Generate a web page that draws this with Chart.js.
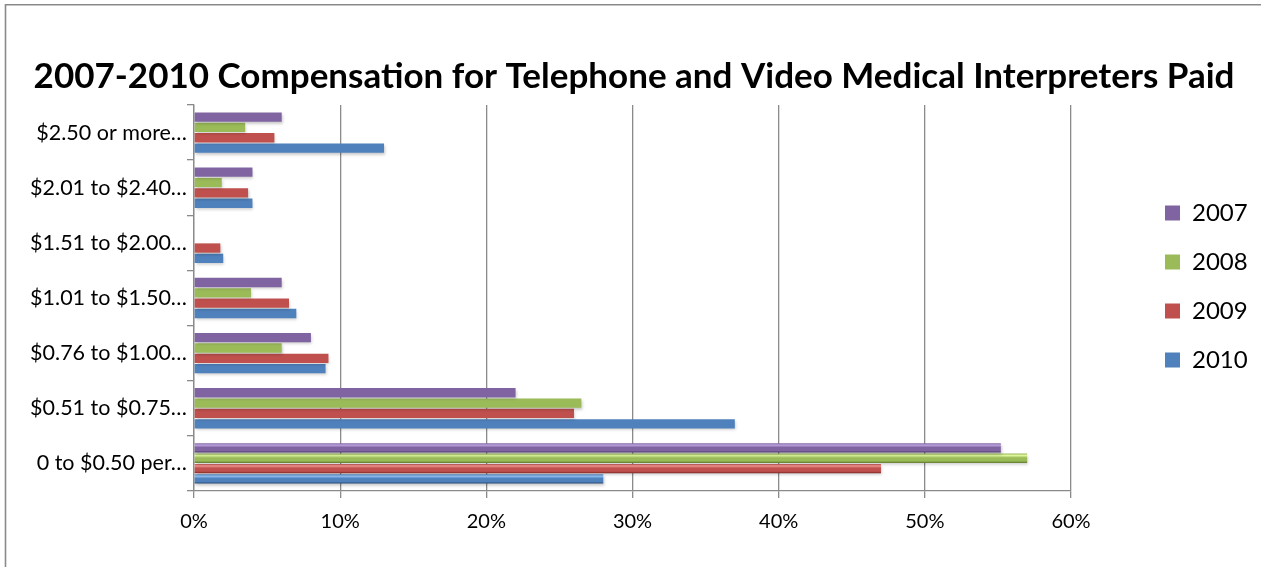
<!DOCTYPE html>
<html>
<head>
<meta charset="utf-8">
<script src="https://cdn.jsdelivr.net/npm/chart.js@4.4.1/dist/chart.umd.min.js"></script>
<style>
html,body{margin:0;padding:0;background:#fff;}
#wrap{width:1261px;height:567px;position:relative;}
</style>
</head>
<body>
<div id="wrap"><canvas id="c" width="1261" height="567"></canvas></div>
<script>
// Categories (top to bottom as drawn)
const categories = ["$2.50 or more…", "$2.01 to $2.40…", "$1.51 to $2.00…", "$1.01 to $1.50…", "$0.76 to $1.00…", "$0.51 to $0.75…", "0 to $0.50 per…"];
// Series values (percent)
const series2007 = [6.0, 4.0, 0, 6.0, 8.0, 22.0, 55.2];
const series2008 = [3.5, 1.9, 0, 3.9, 6.0, 26.5, 57.0];
const series2009 = [5.5, 3.7, 1.8, 6.5, 9.2, 26.0, 47.0];
const series2010 = [13.0, 4.0, 2.0, 7.0, 9.0, 37.0, 28.0];
const seriesNames = ["2007", "2008", "2009", "2010"];
// X tick values
const xTicks = [0, 10, 20, 30, 40, 50, 60];

const palette = [
  {base:'#8064A2', light:'#BBA2DE', dark:'#4F3A6C'},
  {base:'#9BBB59', light:'#DFF79C', dark:'#617A2E'},
  {base:'#C0504D', light:'#F59794', dark:'#7E2623'},
  {base:'#4F81BD', light:'#95C2F4', dark:'#24497A'}
];
const allSeries = [series2007, series2008, series2009, series2010];

const LEGEND_PAD = 25;

const bevelPlugin = {
  id: 'bevel',
  beforeDatasetsDraw(chart) {
    const ctx = chart.ctx;
    chart.data.datasets.forEach((ds, di) => {
      const meta = chart.getDatasetMeta(di);
      const p = palette[di];
      meta.data.forEach(el => {
        const {y, height} = el.getProps(['y', 'height'], true);
        const h = Math.abs(height);
        const g = ctx.createLinearGradient(0, y - h/2, 0, y + h/2);
        g.addColorStop(0, p.base);
        g.addColorStop(0.2, p.light);
        g.addColorStop(0.45, p.base);
        g.addColorStop(0.78, p.base);
        g.addColorStop(1, p.dark);
        el.options.backgroundColor = g;
      });
    });
    ctx.save();
    ctx.shadowColor = 'rgba(0,0,0,0.22)';
    ctx.shadowBlur = 3;
    ctx.shadowOffsetX = 1;
    ctx.shadowOffsetY = 2;
  },
  afterDatasetsDraw(chart) {
    chart.ctx.restore();
  }
};

const framePlugin = {
  id: 'frame',
  beforeDraw(chart) {
    const ctx = chart.ctx;
    ctx.save();
    ctx.fillStyle = '#fff';
    ctx.fillRect(0, 0, chart.width, chart.height);
    ctx.strokeStyle = '#8a8a8a';
    ctx.lineWidth = 1.6;
    ctx.beginPath();
    ctx.moveTo(5.5, chart.height);
    ctx.lineTo(5.5, 4.8);
    ctx.lineTo(chart.width, 4.8);
    ctx.stroke();
    ctx.restore();
  }
};

// place the legend block where the reference has it
const legendPlace = {
  id: 'legendPlace',
  afterLayout(chart) {
    const lg = chart.legend;
    if (!lg || !lg.columnSizes || !lg.columnSizes.length) return;
    const dx = (1165 - LEGEND_PAD) - lg.left;
    lg.left += dx; lg.right += dx;
    const itemH = lg.options.labels.font.size;
    const colH = lg.columnSizes[0].height;
    const start = (lg.top + LEGEND_PAD + lg.bottom - colH) / 2;
    const dy = 213 - (start + itemH / 2);
    lg.top += dy; lg.bottom += dy;
  }
};

const datasets = seriesNames.map((name, i) => ({
  label: name,
  data: allSeries[i],
  backgroundColor: palette[i].base,
  borderColor: palette[i].dark,
  borderWidth: 0,
  barPercentage: 0.9,
  categoryPercentage: 0.75
}));

new Chart(document.getElementById('c'), {
  type: 'bar',
  data: { labels: categories, datasets },
  options: {
    indexAxis: 'y',
    responsive: false,
    animation: false,
    layout: { padding: { left: 16, right: 9, top: 0, bottom: 21 } },
    plugins: {
      title: {
        display: true,
        text: '2007-2010 Compensation for Telephone and Video Medical Interpreters Paid',
        color: '#000',
        font: { family: 'Lato', weight: 'bold', size: 35, lineHeight: 1.2 },
        padding: { top: 56, bottom: 7 }
      },
      legend: {
        position: 'right',
        align: 'center',
        labels: {
          color: '#000',
          font: { family: 'Lato', size: 24 },
          boxWidth: 15,
          boxHeight: 15,
          padding: LEGEND_PAD
        }
      },
      tooltip: { enabled: false }
    },
    scales: {
      x: {
        min: 0,
        max: 60,
        afterBuildTicks(scale) { scale.ticks = xTicks.map(v => ({ value: v })); },
        afterFit(scale) { scale.paddingRight = 190; },
        grid: { color: '#8a8a8a', lineWidth: 1.3, tickLength: 7, drawTicks: true },
        border: { color: '#8a8a8a', width: 1.3 },
        ticks: {
          color: '#000',
          font: { family: 'Lato', size: 20 },
          padding: 12,
          callback: v => v + '%'
        }
      },
      y: {
        afterFit(scale) { scale.width = 178; },
        grid: { drawOnChartArea: false, color: '#8a8a8a', lineWidth: 1.3, tickLength: 7, offset: true },
        border: { color: '#8a8a8a', width: 1.3 },
        ticks: {
          color: '#000',
          font: { family: 'Lato', size: 21.5 },
          padding: 0
        }
      }
    }
  },
  plugins: [framePlugin, bevelPlugin, legendPlace]
});
</script>
</body>
</html>
